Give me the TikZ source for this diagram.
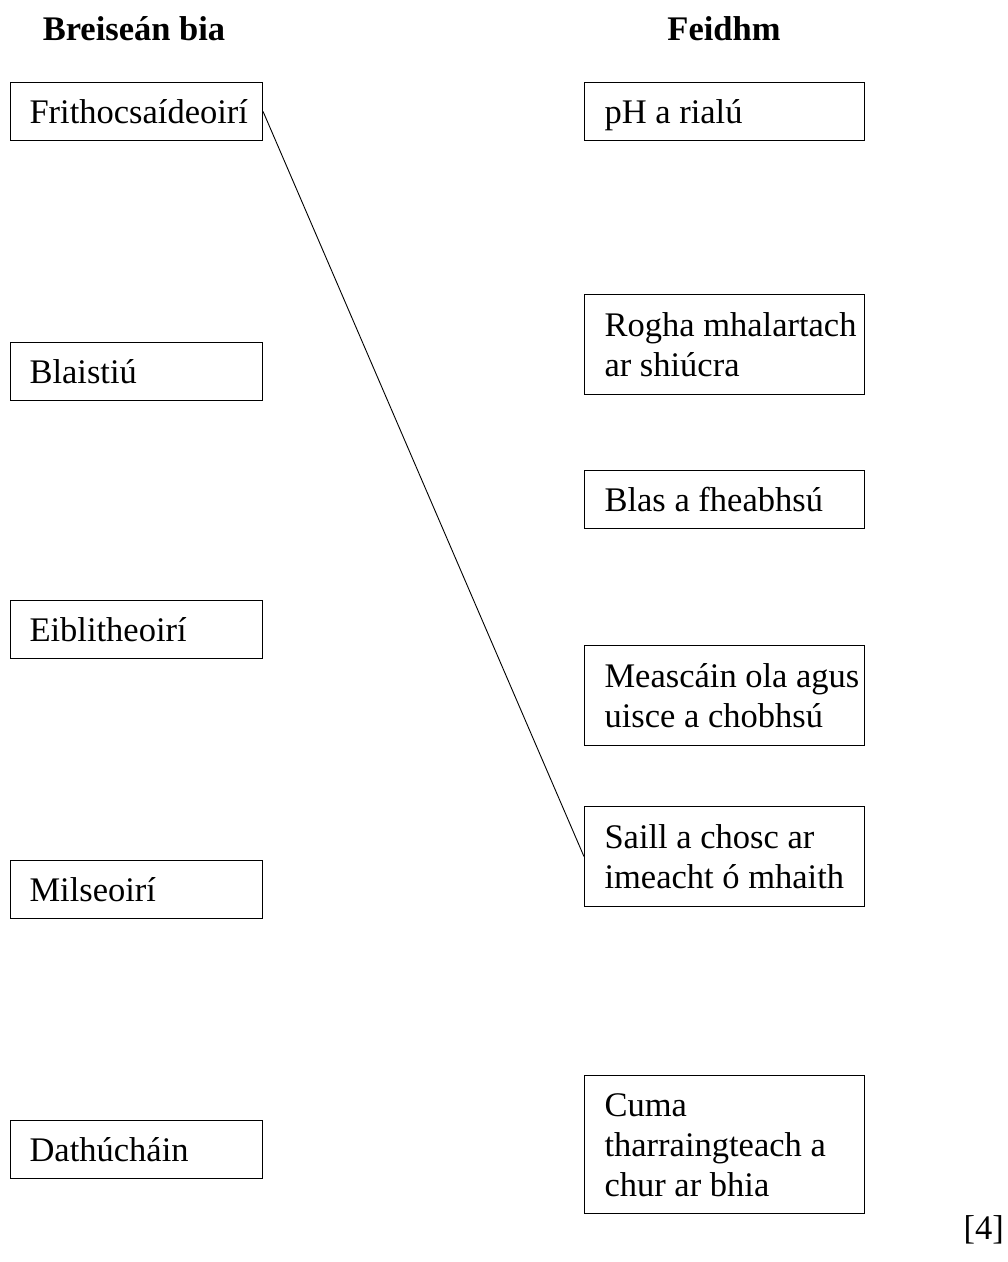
\documentclass[tikz,border=0pt]{standalone}
\usepackage{fontspec}
\setmainfont{Liberation Serif}
\usepackage{tikz}
\usetikzlibrary{
    positioning
}

\begin{document}
\begin{tikzpicture}[
    x=1pt,
    y=-1pt,
    font=\fontsize{34.5pt}{40pt}\selectfont,
    additive/.style={
      draw,
      line width=1.1pt,
      anchor=north west,
      minimum width=252pt,
      minimum height=58pt,
      text width=250pt,
      inner xsep=1pt,
      inner ysep=0pt,
      text height=31pt,
      text depth=7pt,
      align=flush left,
      execute at begin node={\leftskip=18pt}
    },
    function/.style={
      additive,
      minimum width=280pt,
      text width=280pt,
      inner xsep=0pt,
      execute at begin node={\leftskip=20pt}
    },
    heading/.style={
      font=\fontsize{34.5pt}{40pt}\selectfont\bfseries,
      anchor=base,
      inner sep=0pt
    }
  ]

  \useasboundingbox (0,0) rectangle (1008,1262);

  % headings {{{
  \node[heading] (headadd) at (134,40) {Breiseán bia};
  \node[heading] (headfun) at (724,40) {Feidhm};
  % }}}

  % left column {{{
  \node[additive] (antiox) at (10,82) {Frithocsaídeoirí};
  \node[additive] (flavour) at (10,342) {Blaistiú};
  \node[additive] (emuls) at (10,600) {Eiblitheoirí};
  \node[additive] (sweet) at (10,860) {Milseoirí};
  \node[additive] (colour) at (10,1120) {Dathúcháin};
  % }}}

  % right column {{{
  \node[function] (ph) at (584,82) {pH a rialú};
  \node[
    function,
    minimum height=100pt,
    text depth=47pt
  ] (sugar) at (584,294) {Rogha mhalartach\\ar shiúcra};
  \node[function] (taste) at (584,470) {Blas a fheabhsú};
  \node[
    function,
    minimum height=100pt,
    text depth=47pt
  ] (oil) at (584,645) {Meascáin ola agus\\uisce a chobhsú};
  \node[
    function,
    minimum height=100pt,
    text depth=47pt
  ] (fat) at (584,806) {Saill a chosc ar\\imeacht ó mhaith};
  \node[
    function,
    minimum height=138pt,
    text depth=87pt
  ] (look) at (584,1075) {Cuma\\tharraingteach a\\chur ar bhia};
  % }}}

  % example answer
  \draw[line width=0.9pt] (antiox.east) -- (fat.west);

  \node[anchor=base east, inner sep=0pt] (marks) at (1004,1239) {[4]};

\end{tikzpicture}
\end{document}
